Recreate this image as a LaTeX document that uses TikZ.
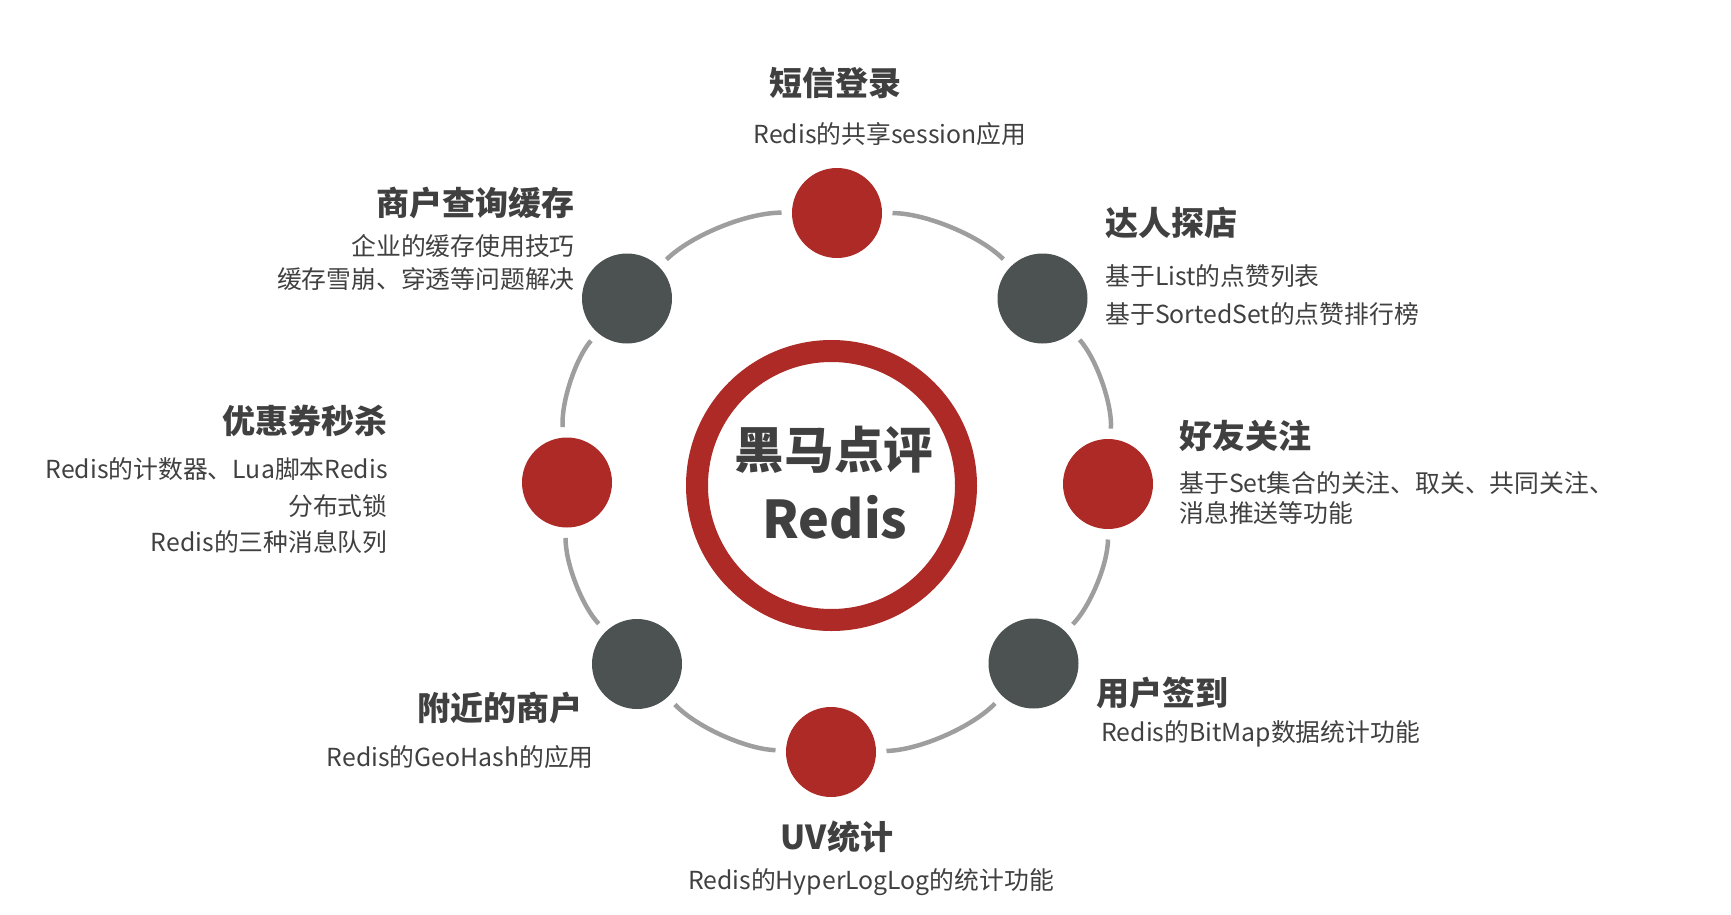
\documentclass[tikz,border=0pt]{standalone}
\usepackage{fontspec}
\setmainfont{Noto Sans CJK SC}
\usepackage{tikz}

\definecolor{hmred}{HTML}{AD2A27}
\definecolor{hmdark}{HTML}{4C5252}
\definecolor{hmline}{HTML}{9E9E9E}
\definecolor{hmtext}{HTML}{404040}

\begin{document}
\begin{tikzpicture}[x=0.5pt, y=-0.5pt,
    hot/.style={circle, fill=hmred, minimum size=45pt, inner sep=0pt, outer sep=0pt},
    cold/.style={circle, fill=hmdark, minimum size=45pt, inner sep=0pt, outer sep=0pt},
    link/.style={draw=hmline, line width=2.25pt, bend left=22.5, looseness=0.8,
                 shorten >=5.25pt, shorten <=5.25pt},
    head/.style={font=\bfseries\fontsize{16.5}{20}\selectfont, text=hmtext, inner sep=0pt},
    note/.style={font=\fontsize{12.4}{15}\selectfont, text=hmtext, inner sep=0pt}]
    % 画布大小
    \useasboundingbox (0,0) rectangle (1731,915);

    % 中心圆环
    \node[circle, draw=hmred, line width=11pt, minimum size=134.5pt, inner sep=0pt] (core) at (831.5,485.5) {};
    \node[font=\bfseries\fontsize{24.8}{30}\selectfont, text=hmtext, inner sep=0pt] (name) at (834,450) {黑马点评};
    \node[font=\bfseries\fontsize{26}{31}\selectfont, text=hmtext, inner sep=0pt, anchor=base] (redis) at (835,538) {Redis};

    % 八个功能点
    \node[hot]  (sms)     at (837,213) {};
    \node[cold] (talent)  at (1042.5,298.5) {};
    \node[hot]  (follow)  at (1108,484) {};
    \node[cold] (sign)    at (1033.5,663.5) {};
    \node[hot]  (uv)      at (831,752) {};
    \node[cold] (nearby)  at (637,664) {};
    \node[hot]  (seckill) at (567,482.5) {};
    \node[cold] (shop)    at (627,298.5) {};

    % 外圈圆弧
    \foreach \a/\b in {sms/talent, talent/follow, follow/sign, sign/uv,
                       uv/nearby, nearby/seckill, seckill/shop, shop/sms}
        \draw[link] (\a) to (\b);

    % 文字说明
    \node[head] (smsT) at (835,83) {短信登录};
    \node[note] (smsD) at (890,134) {Redis的共享session应用};

    \node[head, anchor=west] (talentT) at (1105,223) {达人探店};
    \node[note, anchor=north west, align=left, font=\fontsize{12.4}{19}\selectfont] (talentD) at (1105,264.6)
        {基于List的点赞列表\\基于SortedSet的点赞排行榜};

    \node[head, anchor=west] (followT) at (1179,436) {好友关注};
    \node[note, anchor=north west, align=left] (followD) at (1179,471.6)
        {基于Set集合的关注、取关、共同关注、\\消息推送等功能};

    \node[head, anchor=west] (signT) at (1096,693) {用户签到};
    \node[note, anchor=west] (signD) at (1101,734) {Redis的BitMap数据统计功能};

    \node[head] (uvT) at (837,837) {UV统计};
    \node[note] (uvD) at (871,882) {Redis的HyperLogLog的统计功能};

    \node[head, anchor=east] (nearbyT) at (583,708) {附近的商户};
    \node[note, anchor=east] (nearbyD) at (594,757) {Redis的GeoHash的应用};

    \node[head, anchor=east] (seckillT) at (388,421) {优惠券秒杀};
    \node[note, anchor=north east, align=right, font=\fontsize{12.4}{18.25}\selectfont] (seckillD) at (388,457.6)
        {Redis的计数器、Lua脚本Redis\\分布式锁\\Redis的三种消息队列};

    \node[head, anchor=east] (shopT) at (575,203) {商户查询缓存};
    \node[note, anchor=north east, align=right, font=\fontsize{12.4}{16.5}\selectfont] (shopD) at (575,233.6)
        {企业的缓存使用技巧\\缓存雪崩、穿透等问题解决};
\end{tikzpicture}
\end{document}
